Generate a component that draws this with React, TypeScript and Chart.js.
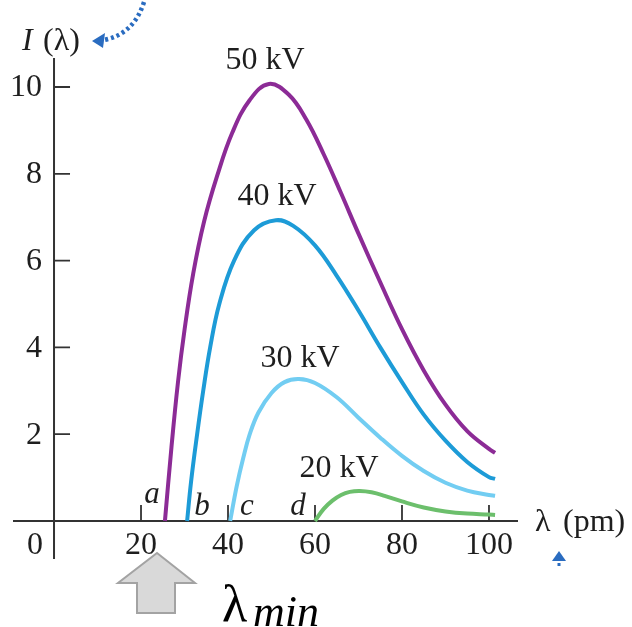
import React, { useEffect, useRef } from "react";
import { Chart, registerables } from "chart.js";

Chart.register(...registerables);

// ---- data ----
const lambda50 = [25.5, 27, 28.5, 30, 32, 34.5, 37.5, 41, 45, 49.4, 54, 58, 62, 66, 70, 75, 80, 85, 90, 95, 100, 101.4];
const intensity50 = [0, 1.7, 3.2, 4.4, 5.7, 6.9, 7.95, 8.95, 9.7, 10.07, 9.82, 9.25, 8.45, 7.55, 6.62, 5.5, 4.42, 3.47, 2.68, 2.07, 1.66, 1.57];

const lambda40 = [30.6, 31.5, 32.9, 34.3, 35.9, 38, 41.4, 46, 51, 55, 60, 65, 70, 75, 80, 85, 90, 95, 100, 101.4];
const intensity40 = [0, 0.9, 2.0, 3.0, 4.0, 5.0, 6.0, 6.7, 6.93, 6.8, 6.35, 5.65, 4.85, 4.0, 3.2, 2.45, 1.85, 1.36, 1.01, 0.97];

const lambda30 = [40.5, 42, 43.5, 45, 47, 50, 53, 56.3, 60, 65, 70, 75, 80, 85, 90, 95, 100, 101.4];
const intensity30 = [0, 0.8, 1.45, 2.0, 2.5, 2.95, 3.2, 3.27, 3.18, 2.85, 2.38, 1.92, 1.5, 1.15, 0.88, 0.7, 0.6, 0.58];

const lambda20 = [60, 62, 64, 66, 68, 70.3, 73, 76, 80, 85, 90, 95, 100, 101.4];
const intensity20 = [0, 0.28, 0.47, 0.6, 0.67, 0.69, 0.66, 0.58, 0.45, 0.31, 0.22, 0.17, 0.15, 0.14];

const seriesLabels = ["50 kV", "40 kV", "30 kV", "20 kV"];
const xTickValues = [20, 40, 60, 80, 100];
const xTickLabels = ["20", "40", "60", "80", "100"];
const yTickValues = [2, 4, 6, 8, 10];
const yTickLabels = ["2", "4", "6", "8", "10"];
const letterLabels = ["a", "b", "c", "d"];

// ---- styles / layout ----
const COLORS = ["#8c2b96", "#1d9bd7", "#72cdf2", "#6cbf6c"];
const SERIF = '"Liberation Serif", "DejaVu Serif", serif';
const AXIS_COLOR = "#333333";

const overlay = {
  id: "overlay",
  beforeDatasetsDraw(chart: any) {
    const ctx = chart.ctx;
    const xs = chart.scales.x;
    const ys = chart.scales.y;
    const x0 = xs.getPixelForValue(0);
    const y0 = ys.getPixelForValue(0);
    ctx.save();
    ctx.strokeStyle = AXIS_COLOR;
    ctx.lineWidth = 2;
    ctx.beginPath();
    ctx.moveTo(xs.left, y0);
    ctx.lineTo(xs.right, y0);
    ctx.moveTo(x0, ys.top);
    ctx.lineTo(x0, ys.bottom);
    ctx.stroke();
    ctx.lineWidth = 1.8;
    ctx.beginPath();
    yTickValues.forEach((v) => {
      const y = ys.getPixelForValue(v);
      ctx.moveTo(x0, y);
      ctx.lineTo(x0 + 16, y);
    });
    xTickValues.forEach((v) => {
      const x = xs.getPixelForValue(v);
      ctx.moveTo(x, y0);
      ctx.lineTo(x, y0 - 16);
    });
    ctx.stroke();
    ctx.restore();
  },
  afterDatasetsDraw(chart: any) {
    const ctx = chart.ctx;
    const xs = chart.scales.x;
    const ys = chart.scales.y;
    const y0 = ys.getPixelForValue(0);
    ctx.save();
    ctx.fillStyle = "#1e1e1e";
    ctx.font = `32px ${SERIF}`;
    // y tick labels
    ctx.textAlign = "right";
    ctx.textBaseline = "middle";
    yTickValues.forEach((v, i) => {
      ctx.fillText(yTickLabels[i], 42, ys.getPixelForValue(v) + 1);
    });
    // x tick labels
    ctx.textAlign = "center";
    xTickValues.forEach((v, i) => {
      ctx.fillText(xTickLabels[i], xs.getPixelForValue(v), y0 + 25);
    });
    ctx.fillText("0", 35, y0 + 25);

    // series labels
    const labelPos = [
      [265, 61],
      [277, 197],
      [300, 359],
      [339, 469],
    ];
    seriesLabels.forEach((t, i) => {
      ctx.fillText(t, labelPos[i][0], labelPos[i][1]);
    });

    // letters
    ctx.font = `italic 31px ${SERIF}`;
    ctx.textBaseline = "alphabetic";
    const letterPos = [
      [152, 503],
      [202, 515],
      [247, 515],
      [298, 515],
    ];
    letterLabels.forEach((t, i) => {
      ctx.fillText(t, letterPos[i][0], letterPos[i][1]);
    });

    // axis titles
    ctx.textAlign = "left";
    ctx.font = `italic 32px ${SERIF}`;
    ctx.fillText("I", 22, 50);
    ctx.font = `32px ${SERIF}`;
    ctx.fillText("(λ)", 43, 50);
    ctx.fillText("λ", 535, 531);
    ctx.fillText("(pm)", 563, 531);

    // λmin
    ctx.fillStyle = "#000000";
    ctx.font = `52px ${SERIF}`;
    ctx.fillText("λ", 222, 621);
    ctx.font = `italic 44px ${SERIF}`;
    ctx.fillText("min", 253, 626);

    // gray arrow
    ctx.beginPath();
    ctx.moveTo(157, 553);
    ctx.lineTo(195, 583);
    ctx.lineTo(175, 583);
    ctx.lineTo(175, 613);
    ctx.lineTo(137, 613);
    ctx.lineTo(137, 583);
    ctx.lineTo(118, 583);
    ctx.closePath();
    ctx.fillStyle = "#d9d9d9";
    ctx.fill();
    ctx.strokeStyle = "#a3a3a3";
    ctx.lineWidth = 2;
    ctx.stroke();

    // blue dotted arrow top-left
    const blue = "#2a6cc0";
    ctx.strokeStyle = blue;
    ctx.fillStyle = blue;
    ctx.lineWidth = 4.5;
    ctx.setLineDash([3, 3]);
    ctx.beginPath();
    ctx.moveTo(144, 2);
    ctx.quadraticCurveTo(134, 34, 104, 40);
    ctx.stroke();
    ctx.setLineDash([]);
    ctx.beginPath();
    ctx.moveTo(92, 41);
    ctx.lineTo(105, 33);
    ctx.lineTo(103, 48);
    ctx.closePath();
    ctx.fill();

    // small blue arrow under λ (pm)
    ctx.beginPath();
    ctx.moveTo(559, 551);
    ctx.lineTo(566, 561);
    ctx.lineTo(552, 561);
    ctx.closePath();
    ctx.fill();
    ctx.fillRect(557.5, 563, 3, 3);
    ctx.restore();
  },
};

export default function App() {
  const canvasRef = useRef<HTMLCanvasElement | null>(null);

  useEffect(() => {
    const canvas = canvasRef.current;
    if (!canvas) return;
    const mk = (xs: number[], ys: number[]) => xs.map((x, i) => ({ x, y: ys[i] }));
    const chart = new Chart(canvas, {
      type: "line",
      data: {
        datasets: [
          { label: seriesLabels[0], data: mk(lambda50, intensity50), borderColor: COLORS[0] },
          { label: seriesLabels[1], data: mk(lambda40, intensity40), borderColor: COLORS[1] },
          { label: seriesLabels[2], data: mk(lambda30, intensity30), borderColor: COLORS[2] },
          { label: seriesLabels[3], data: mk(lambda20, intensity20), borderColor: COLORS[3] },
        ].map((d) => ({
          ...d,
          borderWidth: 4,
          pointRadius: 0,
          fill: false,
          tension: 0.4,
          borderCapStyle: "butt" as const,
        })),
      },
      options: {
        animation: false,
        responsive: false,
        devicePixelRatio: 1,
        layout: { padding: { left: 13, top: 58, right: 114, bottom: 68 } },
        scales: {
          x: { type: "linear", min: -9.43, max: 106.67, display: false },
          y: { type: "linear", min: -0.876, max: 10.668, display: false },
        },
        plugins: { legend: { display: false }, tooltip: { enabled: false } },
      },
      plugins: [overlay],
    });
    return () => chart.destroy();
  }, []);

  return (
    <div style={{ position: "absolute", left: 0, top: 0, width: 632, height: 627, background: "#ffffff" }}>
      <canvas ref={canvasRef} width={632} height={627} style={{ width: 632, height: 627 }} />
    </div>
  );
}
